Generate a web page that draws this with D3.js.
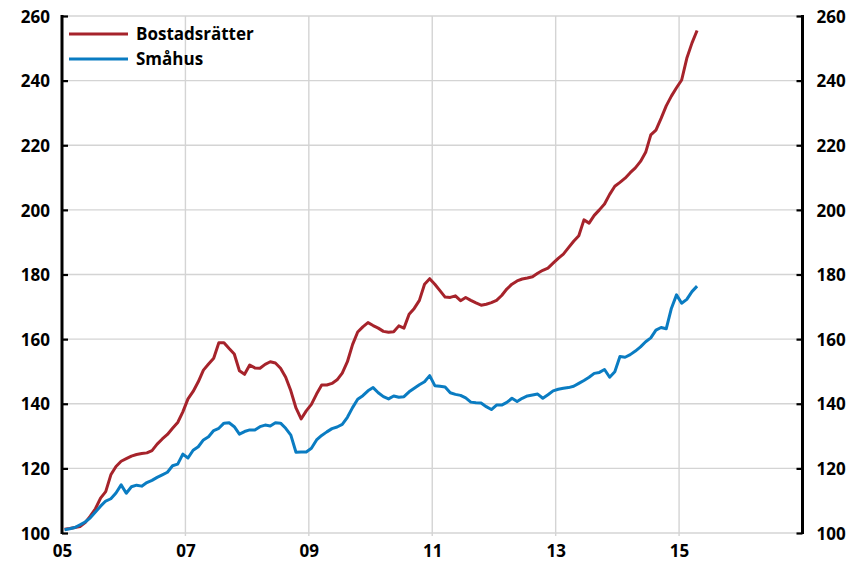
<!DOCTYPE html>
<html><head><meta charset="utf-8">
<script src="https://cdn.jsdelivr.net/npm/d3@7"></script>
<style>
html,body{margin:0;padding:0;background:#fff;}
svg text{font-family:"Open Sans","Noto Sans",sans-serif;font-weight:700;fill:#000;}
</style></head>
<body><svg id="c" width="862" height="568"></svg>
<script>
// Monthly index, Jan 2005 = start (first month ~100)
const startYear = 2005;
const bostadsratter = [
101.2,101.4,101.7,102.0,103.2,105.2,107.5,110.8,112.8,118.0,120.6,122.2,
123.0,123.8,124.3,124.6,124.8,125.5,127.5,129.1,130.5,132.4,134.2,137.5,
141.5,143.8,146.8,150.4,152.3,154.1,158.9,158.9,157.1,155.4,150.2,149.1,
152.0,151.1,151.0,152.2,153.0,152.6,151.0,148.2,144.0,138.7,135.3,137.8,
139.8,143.0,145.8,145.8,146.3,147.4,149.5,153.0,158.3,162.2,163.8,165.1,
164.2,163.4,162.4,162.1,162.3,164.1,163.4,167.7,169.5,172.0,177.0,178.7,
177.0,175.0,173.0,172.9,173.4,171.9,172.9,172.0,171.2,170.5,170.8,171.3,
172.0,173.5,175.5,177.0,178.0,178.6,178.9,179.3,180.4,181.3,182.0,183.5,
185.0,186.3,188.3,190.3,192.0,196.9,195.9,198.3,200.0,201.8,204.8,207.3,
208.5,209.8,211.5,213.0,215.0,217.8,223.2,224.7,228.3,232.2,235.2,237.8,
240.2,246.9,251.6,255.5
];
const smahus = [
101.0,101.3,101.7,102.5,103.4,104.7,106.5,108.3,109.9,110.6,112.4,114.9,
112.3,114.3,114.8,114.5,115.6,116.3,117.2,118.0,118.8,120.8,121.3,124.4,
123.2,125.6,126.7,128.8,129.8,131.7,132.4,134.0,134.1,132.9,130.6,131.4,
131.9,131.9,132.9,133.4,133.1,134.1,134.0,132.4,130.3,125.0,125.1,125.1,
126.2,128.8,130.2,131.3,132.3,132.8,133.6,135.8,138.8,141.4,142.5,144.0,
145.0,143.4,142.2,141.5,142.4,142.0,142.2,143.7,144.8,145.9,146.8,148.7,
145.6,145.4,145.2,143.4,142.9,142.6,141.8,140.5,140.3,140.2,139.1,138.2,
139.6,139.6,140.4,141.7,140.7,141.7,142.4,142.7,143.0,141.7,142.8,144.0,
144.5,144.8,145.0,145.4,146.3,147.2,148.2,149.4,149.7,150.6,148.2,149.9,
154.6,154.4,155.2,156.3,157.6,159.2,160.4,162.8,163.6,163.2,169.5,173.7,
171.1,172.3,174.7,176.4
];
const seriesNames = ["Bostadsrätter","Småhus"];
const seriesColors = ["#a6232b","#0a7cc2"];
const yTicks = [100,120,140,160,180,200,220,240,260];
const xTicks = [2005,2007,2009,2011,2013,2015];
const xTickLabels = ["05","07","09","11","13","15"];
const xGrid = [2007,2009,2011,2013,2015];

const svg = d3.select("#c");
const L = 62, R = 802.5, T = 16, B = 533;
const x = d3.scaleLinear().domain([2005,2017]).range([L,R]);
const y = d3.scaleLinear().domain([100,260]).range([B,T]);
const tOf = i => startYear + (i + 0.5)/12;

// gridlines
const g = svg.append("g");
g.selectAll("line.h").data(yTicks).join("line")
  .attr("x1",L).attr("x2",R).attr("y1",d=>y(d)).attr("y2",d=>y(d))
  .attr("stroke","#d4d4d4").attr("stroke-width",1.4);
g.selectAll("line.v").data(xGrid).join("line")
  .attr("x1",d=>x(d)).attr("x2",d=>x(d)).attr("y1",T).attr("y2",B+3)
  .attr("stroke","#d4d4d4").attr("stroke-width",1.4);

// axes
const leftAxis = d3.axisLeft(y).tickValues(yTicks).tickSize(-6).tickPadding(12).tickFormat(d3.format("d"));
const rightAxis = d3.axisRight(y).tickValues(yTicks).tickSize(-6).tickPadding(14).tickFormat(d3.format("d"));
const la = svg.append("g").attr("transform",`translate(${L},0)`).call(leftAxis);
const ra = svg.append("g").attr("transform",`translate(${R},0)`).call(rightAxis);
[la,ra].forEach(a=>{
  a.select(".domain").attr("d",`M0,${T-1}V${B+1}`).attr("stroke","#000").attr("stroke-width",3);
  a.selectAll(".tick line").attr("stroke","#000").attr("stroke-width",2.2);
  a.selectAll(".tick text").style("font-size","17px").attr("dy","0.36em");
});
const xa = svg.append("g").attr("transform",`translate(0,${B})`)
  .call(d3.axisBottom(x).tickValues(xTicks).tickSize(0).tickPadding(12).tickFormat((d,i)=>xTickLabels[i]));
xa.select(".domain").remove();
xa.selectAll(".tick text").style("font-size","17px");

// lines
const line = d3.line().x((d,i)=>x(tOf(i))).y(d=>y(d));
[bostadsratter, smahus].forEach((s,k)=>{
  svg.append("path").datum(s).attr("d",line).attr("fill","none")
    .attr("stroke",seriesColors[k]).attr("stroke-width",3).attr("stroke-linejoin","round");
});

// legend
const lg = svg.append("g");
seriesNames.forEach((n,k)=>{
  const yy = 34 + k*25;
  lg.append("line").attr("x1",69).attr("x2",128).attr("y1",yy).attr("y2",yy)
    .attr("stroke",seriesColors[k]).attr("stroke-width",3);
  lg.append("text").attr("x",136).attr("y",yy).attr("dy","0.36em").style("font-size","17px").text(n);
});
</script></body></html>
